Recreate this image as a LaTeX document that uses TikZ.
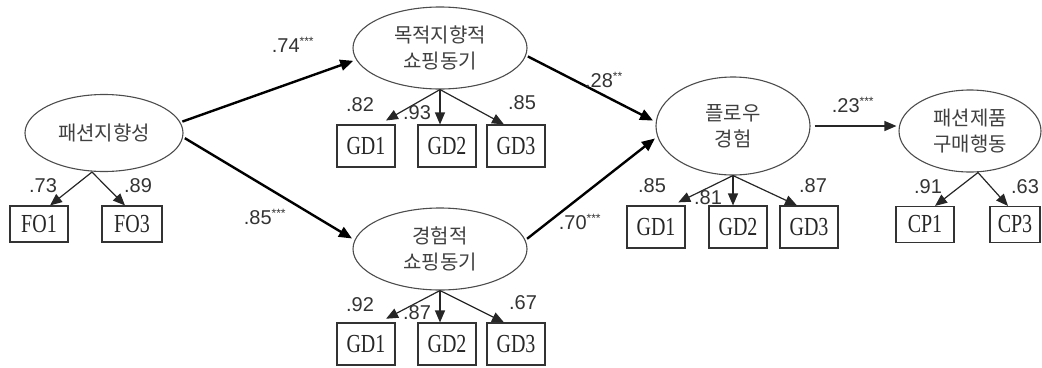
\documentclass[tikz,border=0pt]{standalone}
\usepackage{fontspec}
\usepackage{graphicx}
\setmainfont{Liberation Sans}
\newfontfamily\kor{Noto Sans CJK KR}
\newfontfamily\boxfont{Liberation Serif}
\usetikzlibrary{shapes.geometric,arrows.meta}
\newcommand\stars[1]{\textsuperscript{\fontsize{12}{12}\selectfont #1}}
\newcommand\ind[1]{\scalebox{1}[1.3]{#1}}
\tikzset{
  latent/.style={ellipse, draw=black!70, line width=1.1pt, text=black!75, align=center,
    font=\kor\fontsize{20}{26}\selectfont, inner sep=0pt},
  observed/.style={rectangle, draw=black!80, line width=1.1pt, text=black!85,
    font=\boxfont\fontsize{20}{20}\selectfont, minimum width=58pt, minimum height=40pt, inner sep=0pt},
  struct/.style={line width=2.4pt, -{Triangle[length=13pt,width=11pt]}, shorten <=2pt, shorten >=3pt},
  load/.style={line width=1.2pt, black!85, -{Triangle[length=12pt,width=10pt]}},
  coef/.style={font=\fontsize{20}{20}\selectfont, text=black!80, inner sep=0pt}
}
\begin{document}
\begin{tikzpicture}[x=1pt,y=-1pt]
\useasboundingbox (0,0) rectangle (1042,367);
% the latent variables
\node[latent, minimum width=158pt, minimum height=77pt] (fo) at (104,133) {패션지향성};
\node[latent, minimum width=174pt, minimum height=82pt] (gs) at (440,48) {목적지향적\\쇼핑동기};
\node[latent, minimum width=174pt, minimum height=82pt] (es) at (440,249) {경험적\\쇼핑동기};
\node[latent, minimum width=154pt, minimum height=98pt] (fl) at (733,126) {플로우\\경험};
\node[latent, minimum width=142pt, minimum height=82pt] (cp) at (970,131) {패션제품\\구매행동};

% the indicators
\node[observed, minimum height=36pt] (fo1) at (39,224) {\ind{FO1}};
\node[observed, minimum height=36pt, minimum width=60pt] (fo3) at (132,224) {\ind{FO3}};
\foreach \n/\x/\t in {A/366/GD1, B/447/GD2, C/516/GD3} {
  \node[observed, minimum height=42pt] (gs\n) at (\x,146) {\ind{\t}};
  \node[observed, minimum height=42pt] (es\n) at (\x,344) {\ind{\t}};
}
\foreach \n/\x/\t in {A/656/GD1, B/738/GD2, C/809/GD3}
  \node[observed, minimum height=42pt] (fl\n) at (\x,227) {\ind{\t}};
\node[observed, minimum height=36pt] (cp1) at (925,224.5) {\ind{CP1}};
\node[observed, minimum height=36pt, minimum width=50pt] (cp3) at (1015,224.5) {\ind{CP3}};

% structural paths
\draw[struct] (fo.8) -- (gs.188);
\draw[struct] (fo.357) -- (es.174);
\draw[struct] (gs.355) -- (fl.177);
\draw[struct] (es.6) -- (fl.188);
\draw[load, shorten <=4pt, shorten >=2pt] (fl.east) -- (fl.east -| cp.west);

\node[coef] (c1) at (293,45) {.74\stars{***}};
\node[coef] (c2) at (265,217) {.85\stars{***}};
\node[coef] (c3) at (604,80) {.28\stars{**}};
\node[coef] (c4) at (580,222) {.70\stars{***}};
\node[coef] (c5) at (853,105) {.23\stars{***}};

% measurement paths
\coordinate (fov) at ([xshift=-12pt]fo.south);
\coordinate (cpv) at ([xshift=8pt]cp.south);
\draw[load] (fov) -- ([xshift=11pt]fo1.north);
\draw[load] (fov) -- ([xshift=-7pt]fo3.north);
\foreach \l in {gs,es} {
  \draw[load, shorten >=8pt] (\l.south) -- ([xshift=13pt]\l A.north);
  \draw[load] (\l.south) -- (\l.south |- \l B.north);
  \draw[load] (\l.south) -- ([xshift=-12pt]\l C.north);
}
\draw[load, shorten >=7pt] (fl.south) -- ([xshift=16pt]flA.north);
\draw[load] (fl.south) -- (fl.south |- flB.north);
\draw[load] (fl.south) -- ([xshift=-12pt]flC.north);
\draw[load] (cpv) -- ([xshift=10pt]cp1.north);
\draw[load] (cpv) -- ([xshift=-7pt]cp3.north);

% the loadings
\foreach \v/\x/\y [count=\i] in {.73/43/186, .89/138/186, .82/360/105, .93/417/113, .85/522/103,
    .92/360/305, .87/417/313, .67/523/303, .85/652/186, .81/708/198, .87/813/186,
    .91/928/187, .63/1025/187}
  \node[coef] (l\i) at (\x,\y) {\v};
\end{tikzpicture}
\end{document}
